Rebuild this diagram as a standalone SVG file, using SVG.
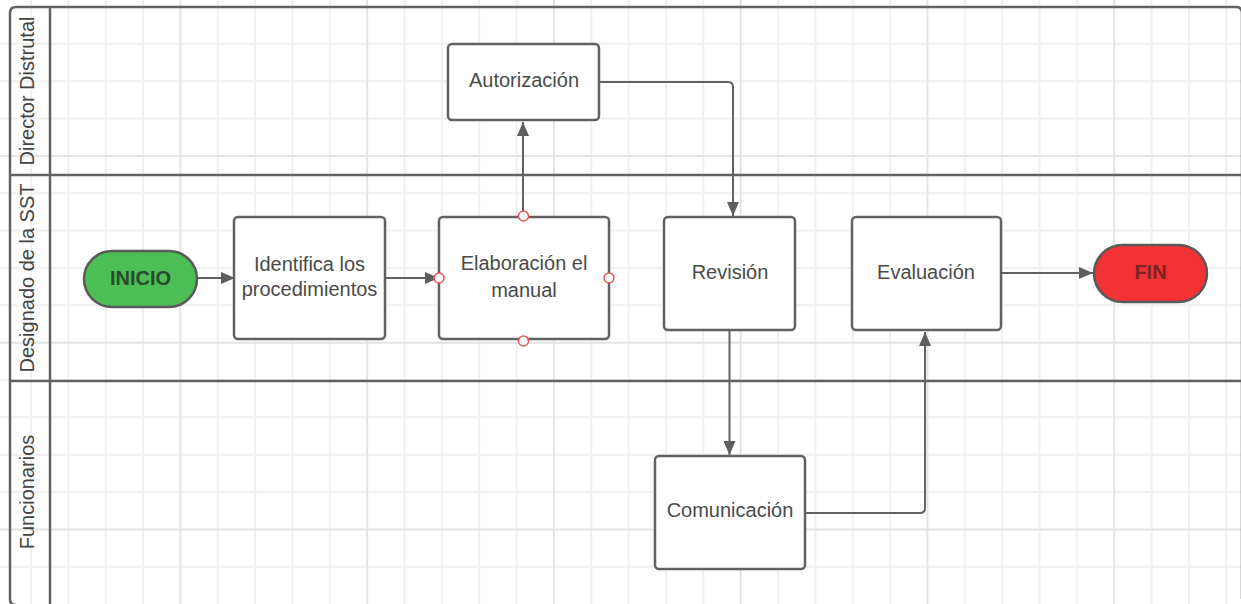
<svg xmlns="http://www.w3.org/2000/svg" width="1241" height="604" viewBox="0 0 1241 604">
<style>
.grid{stroke:#f0f0f0;stroke-width:2;fill:none}
.grid2{stroke:#e4e4e4;stroke-width:2;fill:none}
.pool{fill:none;stroke:#626262;stroke-width:2.5}
.lane{font-family:"Liberation Sans",Arial,sans-serif;font-size:20px;fill:#444}
.box{fill:#fff;stroke:#616161;stroke-width:2.5}
.t{font-family:"Liberation Sans",Arial,sans-serif;font-size:20px;fill:#4a4a4a;text-anchor:middle}
.tb{font-family:"Liberation Sans",Arial,sans-serif;font-size:20px;font-weight:bold;text-anchor:middle}
.c{fill:none;stroke:#626262;stroke-width:2}
.pt{fill:#fff;stroke:#e8565a;stroke-width:1.5}
</style>
<defs>
<marker id="ah" viewBox="0 0 14 12" refX="14" refY="6" markerWidth="14" markerHeight="12" markerUnits="userSpaceOnUse" orient="auto">
<path d="M0,0 L14,6 L0,12 Z" fill="#5e5e5e"/>
</marker>
</defs>
<rect width="1241" height="604" fill="#fff"/>
<g id="grid">
<path class="grid" d="M31,0V604M68.35,0V604M105.7,0V604M143.05,0V604M217.75,0V604M255.1,0V604M292.45,0V604M329.8,0V604M404.5,0V604M441.85,0V604M479.2,0V604M516.55,0V604M591.25,0V604M628.6,0V604M665.95,0V604M703.3,0V604M778,0V604M815.35,0V604M852.7,0V604M890.05,0V604M964.75,0V604M1002.1,0V604M1039.45,0V604M1076.8,0V604M1151.5,0V604M1188.85,0V604M1226.2,0V604M0,43.85H1241M0,81.2H1241M0,118.55H1241M0,193.25H1241M0,230.6H1241M0,267.95H1241M0,305.3H1241M0,380H1241M0,417.35H1241M0,454.7H1241M0,492.05H1241M0,566.75H1241"/>
<path class="grid2" d="M180.4,0V604M367.15,0V604M553.9,0V604M740.65,0V604M927.4,0V604M1114.15,0V604M0,155.9H1241M0,342.65H1241M0,529.4H1241"/>
</g>
<g id="pool">
<path class="pool" d="M16,605Q10,605 10,599V13Q10,7 16,7H1236Q1242,7 1242,13V599"/>
<path class="pool" d="M50,7V605M10,175H1242M10,381H1242"/>
<text class="lane" transform="translate(34,91) rotate(-90)" text-anchor="middle">Director Distrutal</text>
<text class="lane" transform="translate(34,278) rotate(-90)" text-anchor="middle">Designado de la SST</text>
<text class="lane" transform="translate(34,492) rotate(-90)" text-anchor="middle">Funcionarios</text>
</g>
<g id="connectors">
<path class="c" d="M197,278H235" marker-end="url(#ah)"/>
<path class="c" d="M385,278H439" marker-end="url(#ah)"/>
<path class="c" d="M523,216V122" marker-end="url(#ah)"/>
<path class="c" d="M599,82H728Q733,82 733,87V216" marker-end="url(#ah)"/>
<path class="c" d="M729.5,330V455" marker-end="url(#ah)"/>
<path class="c" d="M805,513H920Q925,513 925,508V332" marker-end="url(#ah)"/>
<path class="c" d="M1001,273H1093" marker-end="url(#ah)"/>
</g>
<g id="inicio">
<rect x="84" y="251" width="113" height="56" rx="28" fill="#4cbe55" stroke="#5a5a5a" stroke-width="2.5"/>
<text class="tb" x="140.5" y="285" fill="#2b4a2d">INICIO</text>
</g>
<g id="identifica">
<rect class="box" x="234" y="217" width="151" height="122" rx="4"/>
<text class="t" x="309.5" y="271">Identifica los</text>
<text class="t" x="309.5" y="296">procedimientos</text>
</g>
<g id="elaboracion">
<rect class="box" x="439" y="217" width="170" height="122" rx="4"/>
<text class="t" x="524" y="270">Elaboración el</text>
<text class="t" x="524" y="297">manual</text>
<circle class="pt" cx="523.5" cy="216" r="5"/>
<circle class="pt" cx="439" cy="278" r="5"/>
<circle class="pt" cx="609" cy="278" r="5"/>
<circle class="pt" cx="523.5" cy="341" r="5"/>
</g>
<g id="autorizacion">
<rect class="box" x="448" y="44" width="151" height="76" rx="4"/>
<text class="t" x="524" y="87">Autorización</text>
</g>
<g id="revision">
<rect class="box" x="664" y="217" width="131" height="113" rx="4"/>
<text class="t" x="730" y="279">Revisión</text>
</g>
<g id="evaluacion">
<rect class="box" x="852" y="217" width="149" height="113" rx="4"/>
<text class="t" x="926" y="279">Evaluación</text>
</g>
<g id="comunicacion">
<rect class="box" x="655" y="456" width="150" height="113" rx="4"/>
<text class="t" x="730" y="517">Comunicación</text>
</g>
<g id="fin">
<rect x="1094" y="245" width="113" height="57" rx="28.5" fill="#f23233" stroke="#5a5a5a" stroke-width="2.5"/>
<text class="tb" x="1150.5" y="279" fill="#7e2426">FIN</text>
</g>
</svg>
